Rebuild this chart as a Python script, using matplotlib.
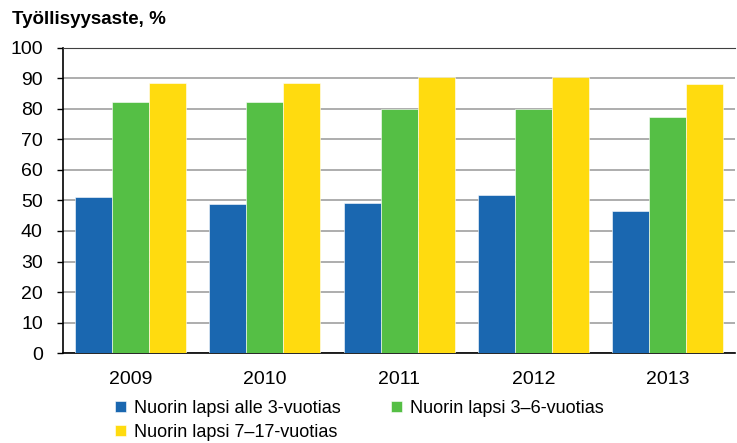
import numpy as np
from matplotlib import pyplot as plt

plt.rcParams['font.family'] = ['Liberation Sans', 'DejaVu Sans']

years = ['2009', '2010', '2011', '2012', '2013']
series_names = ['Nuorin lapsi alle 3-vuotias',
                'Nuorin lapsi 3–6-vuotias',
                'Nuorin lapsi 7–17-vuotias']
under3 = [51.2, 48.7, 49.3, 51.8, 46.6]
age3_6 = [82.3, 82.3, 80.1, 80.1, 77.5]
age7_17 = [88.6, 88.6, 90.3, 90.3, 88.1]
colors = ['#1a67b0', '#55bf45', '#ffdb0f']


def main():
    fig = plt.figure(figsize=(7.37, 4.43), dpi=100)
    ax = fig.add_axes([0.0855, 0.203, 0.912, 0.689])

    x = np.arange(len(years))
    width = 0.275
    bars = []
    for i, (vals, name, col) in enumerate(zip([under3, age3_6, age7_17], series_names, colors)):
        b = ax.bar(x + (i - 1) * width, vals, width, color=col, label=name,
                   edgecolor='white', linewidth=0.4, zorder=3)
        bars.append(b)

    ax.set_xlim(-0.5, len(years) - 0.5)
    ax.set_ylim(0, 100)
    ax.set_yticks(range(0, 101, 10))
    ax.set_xticks(x)
    ax.set_xticklabels(years)
    ax.tick_params(axis='y', labelsize=14, length=4.5, width=1, direction='out', pad=10)
    ax.tick_params(axis='x', labelsize=14, length=0, pad=13)
    ax.yaxis.grid(True, color='#a0a0a0', linewidth=1.2, zorder=0)
    ax.set_axisbelow(True)

    ax.spines['right'].set_visible(False)
    ax.spines['top'].set_color('#404040')
    ax.spines['left'].set_linewidth(1.2)
    ax.spines['bottom'].set_linewidth(1.2)

    fig.text(0.016, 0.957, 'Työllisyysaste, %', fontsize=13.5, fontweight='bold',
             va='center', ha='left')

    # row-wise legend order: alle 3, 3-6 on first row, 7-17 on second
    order = [0, 2, 1]
    ax.legend([bars[k] for k in order], [series_names[k] for k in order],
              loc='upper left', bbox_to_anchor=(0.077, -0.153), ncol=2, frameon=False,
              fontsize=13, handlelength=0.6, handleheight=0.6, handletextpad=0.45,
              columnspacing=2.8, labelspacing=0.38, borderaxespad=0, borderpad=0)

    fig.savefig('out.png', dpi=100)
    plt.close(fig)


if __name__ == '__main__':
    main()
